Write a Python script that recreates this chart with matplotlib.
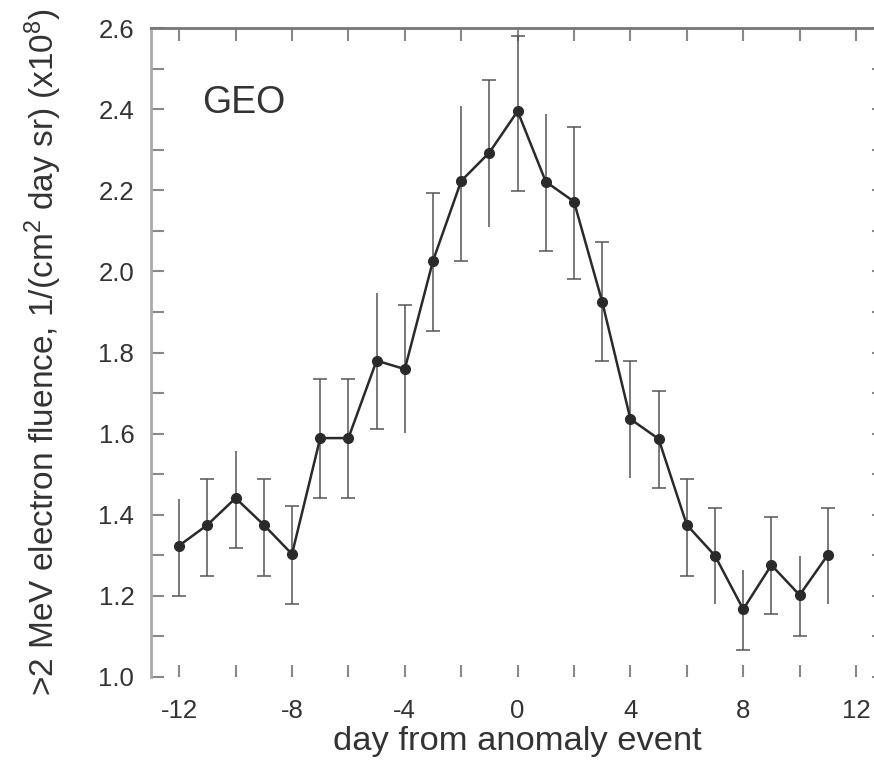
import numpy as np
import matplotlib
matplotlib.use("Agg")
import matplotlib.pyplot as plt

plt.rcParams['font.family'] = ['Liberation Sans', 'DejaVu Sans']
plt.rcParams['mathtext.fontset'] = 'custom'
plt.rcParams['mathtext.rm'] = 'Liberation Sans'
plt.rcParams['mathtext.it'] = 'Liberation Sans'

# data
days = np.arange(-12, 12)
fluence = [1.324, 1.375, 1.441, 1.375, 1.303, 1.589, 1.589, 1.780, 1.759, 2.026,
           2.223, 2.293, 2.395, 2.221, 2.172, 1.925, 1.636, 1.587, 1.375, 1.299,
           1.167, 1.276, 1.202, 1.301]
err_top = [1.439, 1.488, 1.557, 1.488, 1.422, 1.735, 1.735, 1.947, 1.917, 2.193,
           2.408, 2.472, 2.580, 2.388, 2.356, 2.072, 1.779, 1.705, 1.488, 1.417,
           1.264, 1.394, 1.298, 1.417]
err_bot = [1.200, 1.249, 1.318, 1.249, 1.180, 1.441, 1.441, 1.611, 1.602, 1.853,
           2.026, 2.109, 2.198, 2.050, 1.981, 1.779, 1.491, 1.466, 1.249, 1.180,
           1.067, 1.155, 1.101, 1.180]
cap_top = [0, 1, 0, 1, 1, 1, 1, 0, 1, 1, 0, 1, 1, 0, 1, 1, 1, 1, 1, 1, 0, 1, 0, 1]
cap_bot = [1, 1, 1, 1, 1, 1, 1, 1, 0, 1, 1, 0, 1, 1, 1, 1, 0, 1, 1, 0, 1, 1, 1, 0]
xticks_major = [-12, -8, -4, 0, 4, 8, 12]
yticks_major = [1.0, 1.2, 1.4, 1.6, 1.8, 2.0, 2.2, 2.4, 2.6]

fluence = np.array(fluence)
err_top = np.array(err_top)
err_bot = np.array(err_bot)
cap_top = np.array(cap_top, bool)
cap_bot = np.array(cap_bot, bool)

text_c = '#333333'
err_c = '#555555'

fig = plt.figure(figsize=(8.74, 7.62), dpi=100)
ax = fig.add_axes([151/874, 1-677/762, 26*28.2/874, (677-28)/762])

ax.errorbar(days, fluence, yerr=[fluence-err_bot, err_top-fluence], fmt='none',
            ecolor=err_c, elinewidth=1.1, capsize=0, zorder=2)
ax.plot(days[cap_top], err_top[cap_top], ls='none', marker='_', ms=10,
        mew=1.1, color=err_c, zorder=2)
ax.plot(days[cap_bot], err_bot[cap_bot], ls='none', marker='_', ms=10,
        mew=1.1, color=err_c, zorder=2)
ax.plot(days, fluence, color='#2a2a2a', lw=1.8, marker='o', ms=7,
        mfc='#2a2a2a', mec='#2a2a2a', zorder=3)

ax.set_xlim(-13, 13)
ax.set_ylim(1.0, 2.6)
ax.set_xticks(xticks_major)
ax.set_xticklabels([str(v) for v in xticks_major])
ax.set_xticks(np.arange(-12, 13, 2), minor=True)
ax.set_yticks(yticks_major)
ax.set_yticklabels([f'{v:.1f}' for v in yticks_major])
ax.set_yticks(np.arange(1.0, 2.61, 0.1), minor=True)

for which in ('major', 'minor'):
    ax.tick_params(axis='both', which=which, direction='in', length=9,
                   width=1.5, color='#888888', top=True, right=True)
ax.tick_params(axis='x', which='major', labelsize=18.5, pad=16, labelcolor=text_c)
ax.tick_params(axis='y', which='major', labelsize=18.5, pad=12, labelcolor=text_c)

ax.spines['bottom'].set_visible(False)
ax.spines['left'].set_color('#aaaaaa')
ax.spines['left'].set_linewidth(2)
ax.spines['top'].set_color('#777777')
ax.spines['top'].set_linewidth(2)
ax.spines['right'].set_color('#777777')

ax.set_xlabel('day from anomaly event', fontsize=24.8, color=text_c, labelpad=2)
ax.set_ylabel(r'>2 MeV electron fluence, 1/(cm$^2$ day sr) (x10$^8$)',
              fontsize=24, color=text_c, labelpad=25)

ax.text(0.07, 0.885, 'GEO', transform=ax.transAxes, fontsize=27, color=text_c,
        ha='left', va='center')

fig.savefig('out.png', dpi=100)
